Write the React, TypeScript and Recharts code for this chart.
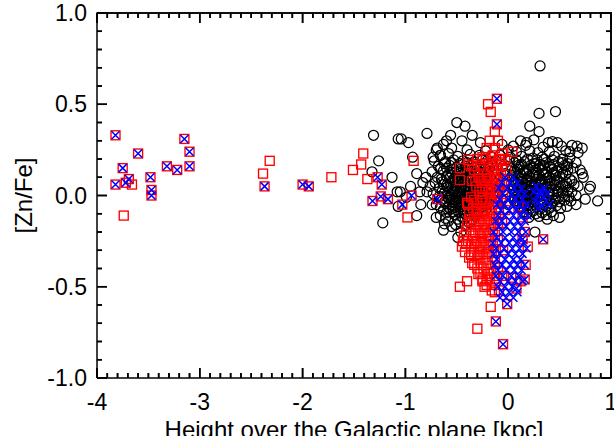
import { ScatterChart, Scatter, XAxis, YAxis } from 'recharts';

const FONT = '"Liberation Sans", Arial, Helvetica, sans-serif';

// axis ticks
const xMajor = [-4, -3, -2, -1, 0, 1];
const yMajor = [-1, -0.5, 0, 0.5, 1];
const yLabels = ['-1.0', '-0.5', '0.0', '0.5', '1.0'];
const xMinor = Array.from({ length: 51 }, (_, i) => Math.round((-4 + i * 0.1) * 10) / 10);
const yMinor = Array.from({ length: 21 }, (_, i) => Math.round((-1 + i * 0.1) * 10) / 10);
const xRange = [-4, 1];
const yRange = [-1, 1];
const xTitle = 'Height over the Galactic plane [kpc]';
const yTitle = '[Zn/Fe]';

// chart box (set by the margins and axis sizes below)
const W = 614;
const H = 436;
const M = { top: 13, right: 3, bottom: 0, left: 0 };
const X_AXIS_H = 58;
const Y_AXIS_W = 97;

// black circles: [height kpc, [Zn/Fe]]
const circles: [number, number][] = [
  // halo
  [-1.31, 0.33], [-1.26, 0.19], [-1.325, 0.13], [-1.13, 0.1], [-1.07, 0.31], [-1.04, 0.31], [-0.97, 0.29],
  [-1.07, -0.06], [-1.08, 0.02], [-1.05, 0.02], [-1.22, -0.15], [-0.89, -0.11], [-0.93, 0.21], [-0.83, 0.07],
  [-0.79, 0.02], [-0.73, 0.21], [-0.63, 0.28], [-0.89, 0.12], [-0.79, 0.34], [-0.6, 0.3], [-0.5, 0.4],
  [-0.42, 0.38], [-0.35, 0.33], [-0.27, 0.29], [-0.63, -0.19], [-0.49, -0.23], [-0.46, -0.2],
  [-0.86, 0.02], [-0.76, 0.05], [-0.8, 0.1], [-0.74, -0.05], [-0.95, 0.05], [-0.99, -0.01], [-0.85, -0.05],
  [-0.7, -0.12], [-0.66, 0.22], [-0.56, 0.33], [-0.45, 0.3], [-0.69, 0.26],
  [0.18, 0.29], [0.21, 0.38], [0.3, 0.35], [0.3, 0.45], [0.46, 0.46], [0.31, 0.71], [0.39, 0.29], [0.48, 0.29],
  [0.6, 0.24], [0.67, 0.27], [0.72, 0.26], [0.53, 0.18], [0.7, 0.14], [0.57, 0.16], [0.68, 0.05], [0.75, -0.02],
  [0.87, -0.03], [0.57, -0.06], [0.5, -0.12], [0.44, -0.11], [0.26, -0.2], [0.38, -0.13], [0.62, 0.08],
  [0.73, 0.1], [0.66, -0.05], [0.8, 0.05],
  // left lobe
  [-0.7, 0.25], [-0.55, 0.26], [-0.4, 0.25], [-0.22, 0.245],
  [-0.66, 0.22], [-0.58, 0.23], [-0.49, 0.215], [-0.37, 0.225], [-0.28, 0.22], [-0.17, 0.215],
  [-0.72, 0.19], [-0.61, 0.185], [-0.53, 0.195], [-0.44, 0.19], [-0.33, 0.185], [-0.25, 0.195], [-0.12, 0.19],
  [-0.68, 0.16], [-0.57, 0.165], [-0.5, 0.155], [-0.42, 0.16], [-0.36, 0.165], [-0.27, 0.155], [-0.19, 0.16],
  [-0.74, 0.13], [-0.63, 0.135], [-0.55, 0.125], [-0.47, 0.13], [-0.4, 0.135], [-0.31, 0.125], [-0.23, 0.13], [-0.14, 0.135],
  [-0.69, 0.1], [-0.6, 0.105], [-0.52, 0.095], [-0.45, 0.1], [-0.38, 0.105], [-0.32, 0.095], [-0.25, 0.1], [-0.18, 0.105],
  [-0.71, 0.07], [-0.64, 0.075], [-0.56, 0.065], [-0.49, 0.07], [-0.42, 0.075], [-0.35, 0.065], [-0.28, 0.07], [-0.21, 0.075], [-0.13, 0.065],
  [-0.67, 0.04], [-0.59, 0.045], [-0.52, 0.035], [-0.46, 0.04], [-0.39, 0.045], [-0.33, 0.035], [-0.26, 0.04], [-0.19, 0.045],
  [-0.73, 0.01], [-0.62, 0.015], [-0.55, 0.005], [-0.48, 0.01], [-0.41, 0.015], [-0.36, 0.005], [-0.29, 0.01], [-0.22, 0.015], [-0.15, 0.005],
  [-0.65, -0.02], [-0.58, -0.015], [-0.51, -0.025], [-0.44, -0.02], [-0.38, -0.015], [-0.31, -0.025], [-0.24, -0.02], [-0.17, -0.015],
  [-0.7, -0.05], [-0.61, -0.045], [-0.54, -0.055], [-0.47, -0.05], [-0.4, -0.045], [-0.34, -0.055], [-0.27, -0.05], [-0.2, -0.045],
  [-0.63, -0.08], [-0.56, -0.075], [-0.49, -0.085], [-0.43, -0.08], [-0.36, -0.075], [-0.29, -0.085], [-0.22, -0.08],
  [-0.66, -0.11], [-0.52, -0.105], [-0.45, -0.115], [-0.38, -0.11], [-0.3, -0.105],
  [-0.58, -0.14], [-0.47, -0.145], [-0.35, -0.135], [-0.55, -0.17], [-0.42, -0.165],
  [-0.53, 0.145], [-0.46, 0.145], [-0.39, 0.15], [-0.3, 0.14], [-0.22, 0.145],
  [-0.58, 0.115], [-0.5, 0.115], [-0.43, 0.12], [-0.35, 0.11], [-0.27, 0.115], [-0.2, 0.12],
  [-0.54, 0.085], [-0.46, 0.085], [-0.39, 0.09], [-0.3, 0.08], [-0.24, 0.085], [-0.16, 0.09],
  [-0.6, 0.055], [-0.53, 0.055], [-0.45, 0.06], [-0.37, 0.05], [-0.3, 0.055], [-0.23, 0.06],
  [-0.57, 0.025], [-0.5, 0.025], [-0.43, 0.03], [-0.34, 0.02], [-0.27, 0.025], [-0.2, 0.03],
  [-0.6, -0.005], [-0.52, -0.005], [-0.45, 0], [-0.39, -0.01], [-0.32, -0.005], [-0.26, 0], [-0.19, -0.01],
  [-0.55, -0.035], [-0.48, -0.035], [-0.42, -0.03], [-0.35, -0.04], [-0.29, -0.035], [-0.22, -0.03],
  [-0.58, -0.065], [-0.51, -0.065], [-0.44, -0.06], [-0.37, -0.07], [-0.31, -0.065], [-0.25, -0.06],
  [-0.62, 0.175], [-0.55, 0.18], [-0.47, 0.175], [-0.4, 0.18], [-0.31, 0.17], [-0.24, 0.175], [-0.16, 0.18],
  [-0.66, 0.145], [-0.6, 0.15], [-0.33, 0.155], [-0.18, 0.15],
  [-0.65, 0.09], [-0.57, 0.095], [-0.49, 0.09], [-0.41, 0.095], [-0.34, 0.09], [-0.28, 0.095], [-0.21, 0.09],
  [-0.63, 0.06], [-0.51, 0.05], [-0.41, 0.055], [-0.33, 0.06], [-0.26, 0.05], [-0.17, 0.055],
  [-0.64, 0.025], [-0.53, 0.02], [-0.47, 0.025], [-0.39, 0.02], [-0.31, 0.03], [-0.24, 0.025], [-0.17, 0.02],
  [-0.67, -0.005], [-0.56, -0.01], [-0.49, 0], [-0.42, -0.005], [-0.35, -0.01], [-0.28, -0.005], [-0.21, 0],
  [-0.62, -0.035], [-0.52, -0.04], [-0.45, -0.035], [-0.38, -0.03], [-0.32, -0.04], [-0.25, -0.035], [-0.18, -0.03],
  [-0.66, -0.065], [-0.54, -0.07], [-0.47, -0.065], [-0.4, -0.06], [-0.34, -0.07], [-0.27, -0.065],
  [-0.6, -0.095], [-0.53, -0.09], [-0.46, -0.095], [-0.4, -0.09], [-0.33, -0.095], [-0.26, -0.09],
  [-0.61, -0.125], [-0.49, -0.13], [-0.42, -0.125], [-0.62, -0.155], [-0.51, -0.16], [-0.38, -0.15],
  // between the lobes
  [-0.08, 0.22], [-0.05, 0.16], [-0.02, 0.08], [-0.07, -0.02], [0, 0.25], [-0.04, 0.03], [-0.1, 0.12],
  [0, -0.05], [-0.09, 0.05], [-0.03, 0.12], [-0.06, 0.28], [0.01, 0.19],
  // right lobe
  [0.12, 0.3], [0.25, 0.305], [0.43, 0.295],
  [0.05, 0.27], [0.17, 0.275], [0.34, 0.265], [0.52, 0.27], [0.62, 0.275],
  [0.08, 0.24], [0.21, 0.245], [0.29, 0.235], [0.4, 0.24], [0.56, 0.245], [0.68, 0.235],
  [0.02, 0.21], [0.13, 0.215], [0.24, 0.205], [0.33, 0.21], [0.45, 0.215], [0.6, 0.205],
  [0.06, 0.18], [0.16, 0.185], [0.27, 0.175], [0.37, 0.18], [0.49, 0.185], [0.58, 0.175], [0.66, 0.18],
  [0.03, 0.15], [0.11, 0.155], [0.2, 0.145], [0.3, 0.15], [0.41, 0.155], [0.52, 0.145], [0.63, 0.15],
  [0.07, 0.12], [0.15, 0.125], [0.24, 0.115], [0.34, 0.12], [0.44, 0.125], [0.56, 0.115], [0.72, 0.12],
  [0.04, 0.09], [0.12, 0.095], [0.19, 0.085], [0.28, 0.09], [0.38, 0.095], [0.47, 0.085], [0.6, 0.09],
  [0.08, 0.06], [0.16, 0.065], [0.25, 0.055], [0.32, 0.06], [0.42, 0.065], [0.53, 0.055], [0.64, 0.06],
  [0.05, 0.03], [0.13, 0.035], [0.21, 0.025], [0.29, 0.03], [0.37, 0.035], [0.48, 0.025], [0.58, 0.03], [0.79, 0.035],
  [0.09, 0], [0.17, 0.005], [0.26, -0.005], [0.34, 0], [0.44, 0.005], [0.55, -0.005], [0.66, 0],
  [0.06, -0.03], [0.14, -0.025], [0.22, -0.035], [0.31, -0.03], [0.4, -0.025], [0.5, -0.035], [0.61, -0.03],
  [0.11, -0.06], [0.19, -0.055], [0.28, -0.065], [0.37, -0.06], [0.47, -0.055],
  [0.15, -0.09], [0.24, -0.085], [0.33, -0.095], [0.42, -0.09], [0.2, -0.12], [0.3, -0.115],
  [0.1, 0.165], [0.22, 0.165], [0.31, 0.17], [0.4, 0.16],
  [0.06, 0.135], [0.17, 0.135], [0.27, 0.14], [0.37, 0.13], [0.47, 0.135],
  [0.1, 0.105], [0.2, 0.105], [0.3, 0.11], [0.4, 0.1], [0.5, 0.105],
  [0.06, 0.075], [0.14, 0.075], [0.22, 0.08], [0.3, 0.07], [0.36, 0.075], [0.45, 0.08],
  [0.1, 0.045], [0.18, 0.045], [0.26, 0.05], [0.34, 0.04], [0.41, 0.045], [0.51, 0.05],
  [0.07, 0.015], [0.15, 0.015], [0.23, 0.02], [0.31, 0.01], [0.4, 0.015], [0.49, 0.02],
  [0.11, -0.015], [0.19, -0.015], [0.28, -0.01], [0.37, -0.02], [0.46, -0.015],
  [0.09, -0.045], [0.17, -0.045], [0.25, -0.04], [0.34, -0.05], [0.42, -0.045],
  [0.08, 0.195], [0.19, 0.2], [0.28, 0.195], [0.35, 0.2], [0.43, 0.195], [0.53, 0.2],
  [0.13, 0.17], [0.25, 0.175], [0.34, 0.165], [0.44, 0.17], [0.55, 0.165],
  [0.09, 0.145], [0.15, 0.14], [0.24, 0.15], [0.33, 0.14], [0.43, 0.145], [0.58, 0.14],
  [0.04, 0.11], [0.12, 0.115], [0.18, 0.12], [0.27, 0.11], [0.37, 0.115], [0.46, 0.11], [0.53, 0.12],
  [0.1, 0.08], [0.18, 0.085], [0.26, 0.075], [0.33, 0.085], [0.4, 0.08], [0.5, 0.075], [0.57, 0.07],
  [0.05, 0.055], [0.13, 0.05], [0.21, 0.055], [0.29, 0.045], [0.37, 0.05], [0.46, 0.055], [0.56, 0.05],
  [0.1, 0.02], [0.18, 0.025], [0.26, 0.015], [0.34, 0.025], [0.43, 0.02], [0.53, 0.015], [0.62, 0.02],
  [0.06, -0.01], [0.14, -0.005], [0.22, -0.01], [0.3, 0], [0.39, -0.005], [0.49, -0.01], [0.59, -0.005],
  [0.09, -0.03], [0.17, -0.035], [0.26, -0.025], [0.35, -0.035], [0.44, -0.03], [0.55, -0.025],
  [0.13, -0.07], [0.22, -0.07], [0.31, -0.075], [0.4, -0.07], [0.51, -0.07],
  [0.18, -0.1], [0.27, -0.1], [0.37, -0.105],
];

// red squares
const squares: [number, number][] = [
  // far from the plane
  [-3.82, 0.33], [-3.82, 0.06], [-3.75, 0.15], [-3.74, -0.11], [-3.72, 0.07], [-3.69, 0.09], [-3.66, 0.06],
  [-3.6, 0.23], [-3.48, 0.1], [-3.47, 0.03], [-3.47, 0], [-3.32, 0.16], [-3.22, 0.14], [-3.15, 0.31],
  [-3.1, 0.24], [-3.1, 0.16], [-2.385, 0.12], [-2.32, 0.19], [-2.37, 0.05], [-2.0, 0.06], [-1.94, 0.05],
  [-1.72, 0.1], [-1.51, 0.14], [-1.43, 0.17], [-1.41, 0.23], [-1.37, 0.09], [-1.27, 0.1], [-1.23, 0.06],
  [-1.32, -0.03], [-1.24, -0.005], [-1.17, -0.02], [-1.03, -0.05], [-0.94, 0], [-0.69, -0.02], [-0.98, -0.12],
  [-0.92, 0.19],
  // upper spike
  [-0.196, 0.5], [-0.17, 0.458], [-0.11, 0.53], [-0.11, 0.39], [-0.13, 0.35], [-0.18, 0.3], [-0.1, 0.3],
  [-0.21, 0.26], [-0.13, 0.26], [0.04, 0.24], [-0.25, 0.21], [-0.39, 0.195], [-0.47, 0.15], [-0.47, 0.085],
  [-0.35, 0.16], [-0.08, 0.195], [-0.16, 0.14], [-0.06, 0.23], [-0.15, 0.22],
  // main body
  [-0.3, 0.2], [-0.22, 0.2], [-0.15, 0.19], [-0.09, 0.2], [-0.03, 0.2],
  [-0.38, 0.17], [-0.27, 0.17], [-0.19, 0.175], [-0.12, 0.17], [-0.06, 0.165],
  [-0.33, 0.14], [-0.24, 0.14], [-0.1, 0.135],
  [-0.29, 0.11], [-0.21, 0.11], [-0.14, 0.115], [-0.07, 0.11],
  [-0.35, 0.08], [-0.25, 0.08], [-0.18, 0.08], [-0.11, 0.085], [-0.04, 0.08],
  [-0.31, 0.05], [-0.22, 0.05], [-0.15, 0.055], [-0.08, 0.05],
  [-0.28, 0.02], [-0.19, 0.02], [-0.12, 0.025], [-0.05, 0.02],
  [-0.36, -0.01], [-0.25, -0.01], [-0.17, -0.01], [-0.1, -0.005],
  [-0.4, -0.04], [-0.3, -0.04], [-0.22, -0.04], [-0.14, -0.035], [-0.07, -0.04],
  [-0.34, -0.07], [-0.27, -0.07], [-0.19, -0.07], [-0.12, -0.065],
  [-0.38, -0.1], [-0.3, -0.1], [-0.23, -0.1], [-0.16, -0.1], [-0.09, -0.095],
  [-0.33, -0.13], [-0.26, -0.13], [-0.19, -0.13], [-0.12, -0.125],
  [-0.4, -0.16], [-0.31, -0.16], [-0.24, -0.16], [-0.17, -0.16], [-0.1, -0.155],
  [-0.36, -0.19], [-0.29, -0.19], [-0.22, -0.19], [-0.15, -0.185],
  [-0.43, -0.22], [-0.34, -0.22], [-0.27, -0.22], [-0.2, -0.22], [-0.13, -0.215],
  [-0.39, -0.25], [-0.31, -0.25], [-0.24, -0.25], [-0.17, -0.25], [-0.1, -0.245],
  [-0.45, -0.28], [-0.36, -0.28], [-0.29, -0.28], [-0.22, -0.28], [-0.15, -0.275],
  [-0.42, -0.31], [-0.33, -0.31], [-0.26, -0.31], [-0.19, -0.31], [-0.12, -0.305],
  [-0.38, -0.34], [-0.3, -0.34], [-0.23, -0.34], [-0.16, -0.335],
  [-0.35, -0.37], [-0.27, -0.37], [-0.2, -0.37], [-0.13, -0.365],
  [-0.3, -0.4], [-0.24, -0.4], [-0.17, -0.4], [-0.1, -0.395],
  [-0.27, -0.43], [-0.2, -0.43], [-0.14, -0.425],
  [-0.25, -0.46], [-0.18, -0.46], [-0.11, -0.455],
  [-0.21, -0.49], [-0.13, -0.49], [-0.16, -0.52], [-0.09, -0.52],
  [-0.33, -0.025], [-0.26, -0.025], [-0.18, -0.02], [-0.11, -0.03],
  [-0.31, -0.085], [-0.24, -0.085], [-0.16, -0.08],
  [-0.36, -0.145], [-0.28, -0.145], [-0.21, -0.14], [-0.14, -0.15],
  [-0.32, -0.205], [-0.25, -0.205], [-0.18, -0.2],
  [-0.41, -0.265], [-0.33, -0.265], [-0.26, -0.26], [-0.19, -0.27],
  [-0.36, -0.325], [-0.28, -0.325], [-0.21, -0.32],
  [-0.25, 0.035], [-0.17, 0.035], [-0.1, 0.04], [-0.28, 0.095], [-0.2, 0.095], [-0.13, 0.1],
  [-0.39, -0.05], [-0.32, 0.08],
  [-0.41, -0.19], [-0.44, -0.25], [-0.37, -0.13], [-0.33, -0.38], [-0.29, -0.43], [-0.23, -0.5],
  [-0.06, -0.15], [-0.05, -0.3], [-0.04, -0.44], [-0.03, -0.08], [-0.06, 0.06], [-0.02, 0.14],
  // along the blue column and below
  [0.1, -0.06], [0.16, -0.2], [0.17, -0.38], [0.12, -0.47], [0.19, -0.28], [0.14, -0.12], [0.03, -0.45],
  [0.14, -0.24], [0.34, -0.24], [-0.17, -0.61], [-0.01, -0.595], [-0.12, -0.69], [-0.3, -0.73], [-0.05, -0.815],
  [-0.47, -0.5], [-0.4, -0.47], [-0.25, -0.47], [-0.13, -0.53], [0.08, -0.51], [0.16, -0.46], [-0.21, -0.46],
];

// blue crosses
const crosses: [number, number][] = [
  [-3.82, 0.33], [-3.82, 0.06], [-3.75, 0.15], [-3.72, 0.07], [-3.69, 0.09], [-3.6, 0.23], [-3.48, 0.1],
  [-3.47, 0.03], [-3.47, 0], [-3.32, 0.16], [-3.22, 0.14], [-3.15, 0.31], [-3.1, 0.24], [-3.1, 0.16],
  [-2.37, 0.05], [-2.0, 0.06], [-1.94, 0.05], [-1.27, 0.1], [-1.23, 0.06], [-1.32, -0.03], [-1.24, -0.005],
  [-1.17, -0.02], [-1.03, -0.05], [-0.94, 0], [-0.69, -0.02], [-0.11, 0.53], [-0.11, 0.39], [0.34, -0.24],
  [-0.01, -0.595], [-0.12, -0.69], [-0.05, -0.815], [0.08, -0.51], [0.16, -0.46], [0.14, -0.24],
  // cluster at z ~ +0.3 kpc
  [0.25, 0.02], [0.28, 0], [0.31, 0.03], [0.34, -0.01], [0.3, -0.04], [0.26, -0.03], [0.37, -0.03],
  [0.33, -0.06], [0.29, -0.07], [0.38, 0.01], [0.35, 0.04], [0.27, 0.05], [0.4, -0.05], [0.32, 0.01],
  // column near the plane
  [-0.03, 0.1], [0.05, 0.1],
  [-0.06, 0.07], [0.02, 0.07], [0.09, 0.07],
  [-0.09, 0.04], [-0.01, 0.04], [0.06, 0.04], [0.13, 0.04],
  [-0.05, 0.01], [0.03, 0.01], [0.1, 0.01], [0.16, 0.01],
  [-0.08, -0.02], [0, -0.02], [0.07, -0.02], [0.14, -0.02],
  [-0.11, -0.05], [-0.04, -0.05], [0.04, -0.05], [0.11, -0.05], [0.18, -0.05],
  [-0.07, -0.08], [0.01, -0.08], [0.08, -0.08], [0.15, -0.08],
  [-0.1, -0.11], [-0.03, -0.11], [0.05, -0.11], [0.12, -0.11], [0.19, -0.11],
  [-0.12, -0.14], [-0.06, -0.14], [0.02, -0.14], [0.09, -0.14], [0.16, -0.14],
  [-0.09, -0.17], [-0.02, -0.17], [0.06, -0.17], [0.13, -0.17],
  [-0.14, -0.2], [-0.05, -0.2], [0.03, -0.2], [0.1, -0.2], [0.17, -0.2],
  [-0.11, -0.23], [-0.03, -0.23], [0.05, -0.23], [0.12, -0.23],
  [-0.15, -0.26], [-0.07, -0.26], [0.01, -0.26], [0.08, -0.26], [0.15, -0.26],
  [-0.12, -0.29], [-0.04, -0.29], [0.04, -0.29], [0.11, -0.29], [0.18, -0.29],
  [-0.14, -0.32], [-0.08, -0.32], [0, -0.32], [0.07, -0.32], [0.14, -0.32],
  [-0.11, -0.35], [-0.03, -0.35], [0.05, -0.35], [0.12, -0.35],
  [-0.13, -0.38], [-0.06, -0.38], [0.02, -0.38], [0.09, -0.38], [0.16, -0.38],
  [-0.1, -0.41], [-0.02, -0.41], [0.06, -0.41], [0.13, -0.41],
  [-0.12, -0.44], [-0.05, -0.44], [0.03, -0.44], [0.1, -0.44],
  [-0.08, -0.47], [0, -0.47], [0.07, -0.47], [0.14, -0.47],
  [-0.1, -0.5], [-0.03, -0.5], [0.04, -0.5],
  [-0.06, -0.53], [0.01, -0.53], [0.09, -0.53],
  [-0.08, -0.56], [-0.02, -0.56], [0.05, -0.56],
];

const toPts = (a: [number, number][]) => a.map(([x, y]) => ({ x, y }));

const near = (v: number, step: number) => Math.abs(v / step - Math.round(v / step)) < 1e-6;

// tick anchor points on the four sides of the box
const bottomTicks = xMinor.map((x) => ({ x, y: yRange[0] }));
const topTicks = xMinor.map((x) => ({ x, y: yRange[1] }));
const leftTicks = yMinor.map((y) => ({ x: xRange[0], y }));
const rightTicks = yMinor.map((y) => ({ x: xRange[1], y }));
const frame = [
  { x: xRange[0], y: yRange[1] },
  { x: xRange[1], y: yRange[1] },
  { x: xRange[1], y: yRange[0] },
];

const INK = '#000';
const xTickLen = (x: number) => (near(x, 1) ? 10 : 5);
const yTickLen = (y: number) => (near(y, 0.5) ? 10 : 5);
const BottomMark = (p: any) => (
  <path d={`M${p.cx},${p.cy}V${p.cy - xTickLen(p.payload.x)}`} stroke={INK} strokeWidth={1.6} fill="none" />
);
const TopMark = (p: any) => (
  <path d={`M${p.cx},${p.cy}V${p.cy + xTickLen(p.payload.x)}`} stroke={INK} strokeWidth={1.6} fill="none" />
);
const LeftMark = (p: any) => (
  <path d={`M${p.cx},${p.cy}H${p.cx + yTickLen(p.payload.y)}`} stroke={INK} strokeWidth={1.6} fill="none" />
);
const RightMark = (p: any) => (
  <path d={`M${p.cx},${p.cy}H${p.cx - yTickLen(p.payload.y)}`} stroke={INK} strokeWidth={1.6} fill="none" />
);
const Dot = (p: any) => <circle cx={p.cx} cy={p.cy} r={0.8} fill={INK} />;

// same box, for a plain-svg copy of the frame and ticks
const box = {
  left: M.left + Y_AXIS_W,
  right: W - M.right,
  top: M.top,
  bottom: H - M.bottom - X_AXIS_H,
};
const px = (x: number) => box.left + ((x - xRange[0]) / (xRange[1] - xRange[0])) * (box.right - box.left);
const py = (y: number) => box.bottom - ((y - yRange[0]) / (yRange[1] - yRange[0])) * (box.bottom - box.top);
const boxPath = [
  `M${box.left},${box.top}H${box.right}V${box.bottom}`,
  ...xMinor.map((x) => `M${px(x)},${box.bottom}v${-xTickLen(x)}M${px(x)},${box.top}v${xTickLen(x)}`),
  ...yMinor.map((y) => `M${box.left},${py(y)}h${yTickLen(y)}M${box.right},${py(y)}h${-yTickLen(y)}`),
].join('');

const BottomTick = (p: any) => (
  <text x={p.x} y={p.y + 32} textAnchor="middle" fontSize={23} fontFamily={FONT} fill="#000">
    {String(p.payload.value)}
  </text>
);

const LeftTick = (p: any) => {
  const idx = yMajor.findIndex((m) => Math.abs(m - p.payload.value) < 1e-6);
  return (
    <text x={p.x - 10} y={p.y + 8} textAnchor="end" fontSize={23} fontFamily={FONT} fill="#000">
      {idx >= 0 ? yLabels[idx] : ''}
    </text>
  );
};

const CircleMark = (p: any) => <circle cx={p.cx} cy={p.cy} r={5} fill="none" stroke="#000" strokeWidth={1.25} />;
const SquareMark = (p: any) => (
  <rect x={p.cx - 4.5} y={p.cy - 4.5} width={9} height={9} fill="none" stroke="#ff0000" strokeWidth={1.35} />
);
const CrossMark = (p: any) => (
  <path
    d={`M${p.cx - 4},${p.cy - 4}L${p.cx + 4},${p.cy + 4}M${p.cx - 4},${p.cy + 4}L${p.cx + 4},${p.cy - 4}`}
    stroke="#0000ff"
    strokeWidth={1.5}
    fill="none"
  />
);

const axisLine = { stroke: '#000', strokeWidth: 1.5 };

export default function App() {
  return (
    <div style={{ width: W, height: H, background: '#fff' }}>
      <style>{'body{margin:0}'}</style>
      <ScatterChart width={W} height={H} margin={M}>
        <XAxis
          type="number"
          dataKey="x"
          domain={xRange}
          ticks={xMajor}
          interval={0}
          height={X_AXIS_H}
          tickSize={0}
          tickMargin={0}
          tickLine={false}
          axisLine={axisLine}
          tick={BottomTick}
        />
        <YAxis
          type="number"
          dataKey="y"
          domain={yRange}
          ticks={yMajor}
          interval={0}
          width={Y_AXIS_W}
          tickSize={0}
          tickMargin={0}
          tickLine={false}
          axisLine={axisLine}
          tick={LeftTick}
        />
        <Scatter data={toPts(circles)} shape={CircleMark} isAnimationActive={false} />
        <Scatter data={toPts(squares)} shape={SquareMark} isAnimationActive={false} />
        <Scatter data={toPts(crosses)} shape={CrossMark} isAnimationActive={false} />
        <Scatter data={bottomTicks} shape={BottomMark} isAnimationActive={false} />
        <Scatter data={topTicks} shape={TopMark} isAnimationActive={false} />
        <Scatter data={leftTicks} shape={LeftMark} isAnimationActive={false} />
        <Scatter data={rightTicks} shape={RightMark} isAnimationActive={false} />
        <Scatter data={frame} shape={Dot} line={{ stroke: INK, strokeWidth: 1.6 }} isAnimationActive={false} />
        <path d={boxPath} stroke={INK} strokeWidth={1.6} fill="none" />
        <text x={(box.left + box.right) / 2} y={438} textAnchor="middle" fontSize={24} fontFamily={FONT} fill="#000">
          {xTitle}
        </text>
        <text
          x={23}
          y={(box.top + box.bottom) / 2}
          transform={`rotate(-90 23 ${(box.top + box.bottom) / 2})`}
          textAnchor="middle"
          dominantBaseline="central"
          fontSize={24}
          fontFamily={FONT}
          fill="#000"
        >
          {yTitle}
        </text>
      </ScatterChart>
    </div>
  );
}
